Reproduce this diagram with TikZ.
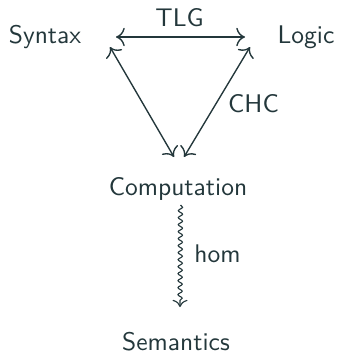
\documentclass[tikz,border=0pt]{standalone}
\usepackage{fontspec}
\usetikzlibrary{arrows.meta,decorations.pathmorphing}
\definecolor{ink}{RGB}{35,55,59}
\begin{document}
\begin{tikzpicture}[x=0.4pt,y=-0.4pt,
  lbl/.style={anchor=base,inner sep=0pt,text=ink,
    font=\sffamily\fontsize{10.2pt}{12pt}\selectfont},
  link/.style={draw=ink,line width=0.55pt,
    {Computer Modern Rightarrow[scale=1.25]}-{Computer Modern Rightarrow[scale=1.25]}},
  squig/.style={draw=ink,line width=0.45pt,-{Computer Modern Rightarrow[scale=1.1]},
    decorate,decoration={snake,amplitude=0.85pt,segment length=2.8pt,post length=1.6pt}}]
  \useasboundingbox (0,0) rectangle (338,353);

  % the four domains
  \node[lbl] (syn)  at (45,43)   {Syntax};
  \node[lbl] (log)  at (306,43)  {Logic};
  \node[lbl] (comp) at (178,195) {Computation};
  \node[lbl] (sem)  at (176,350) {Semantics};

  % correspondences between them
  \draw[link] ([shift={(71,-6)}]syn.base) -- ([shift={(-61,-6)}]log.base);
  \node[lbl] (tlg) at (179.5,26.5) {TLG};
  \draw[link] ([shift={(65,4)}]syn.base) -- ([shift={(-4,-38)}]comp.base);
  \draw[link] ([shift={(-56,4)}]log.base) -- ([shift={(6,-38)}]comp.base);
  \node[lbl] (chc) at (253.5,112.5) {CHC};

  % interpretation
  \draw[squig] ([shift={(2.5,10)}]comp.base) -- ([shift={(4,-43)}]sem.base);
  \node[lbl] (hom) at (217.5,262) {hom};
\end{tikzpicture}
\end{document}
